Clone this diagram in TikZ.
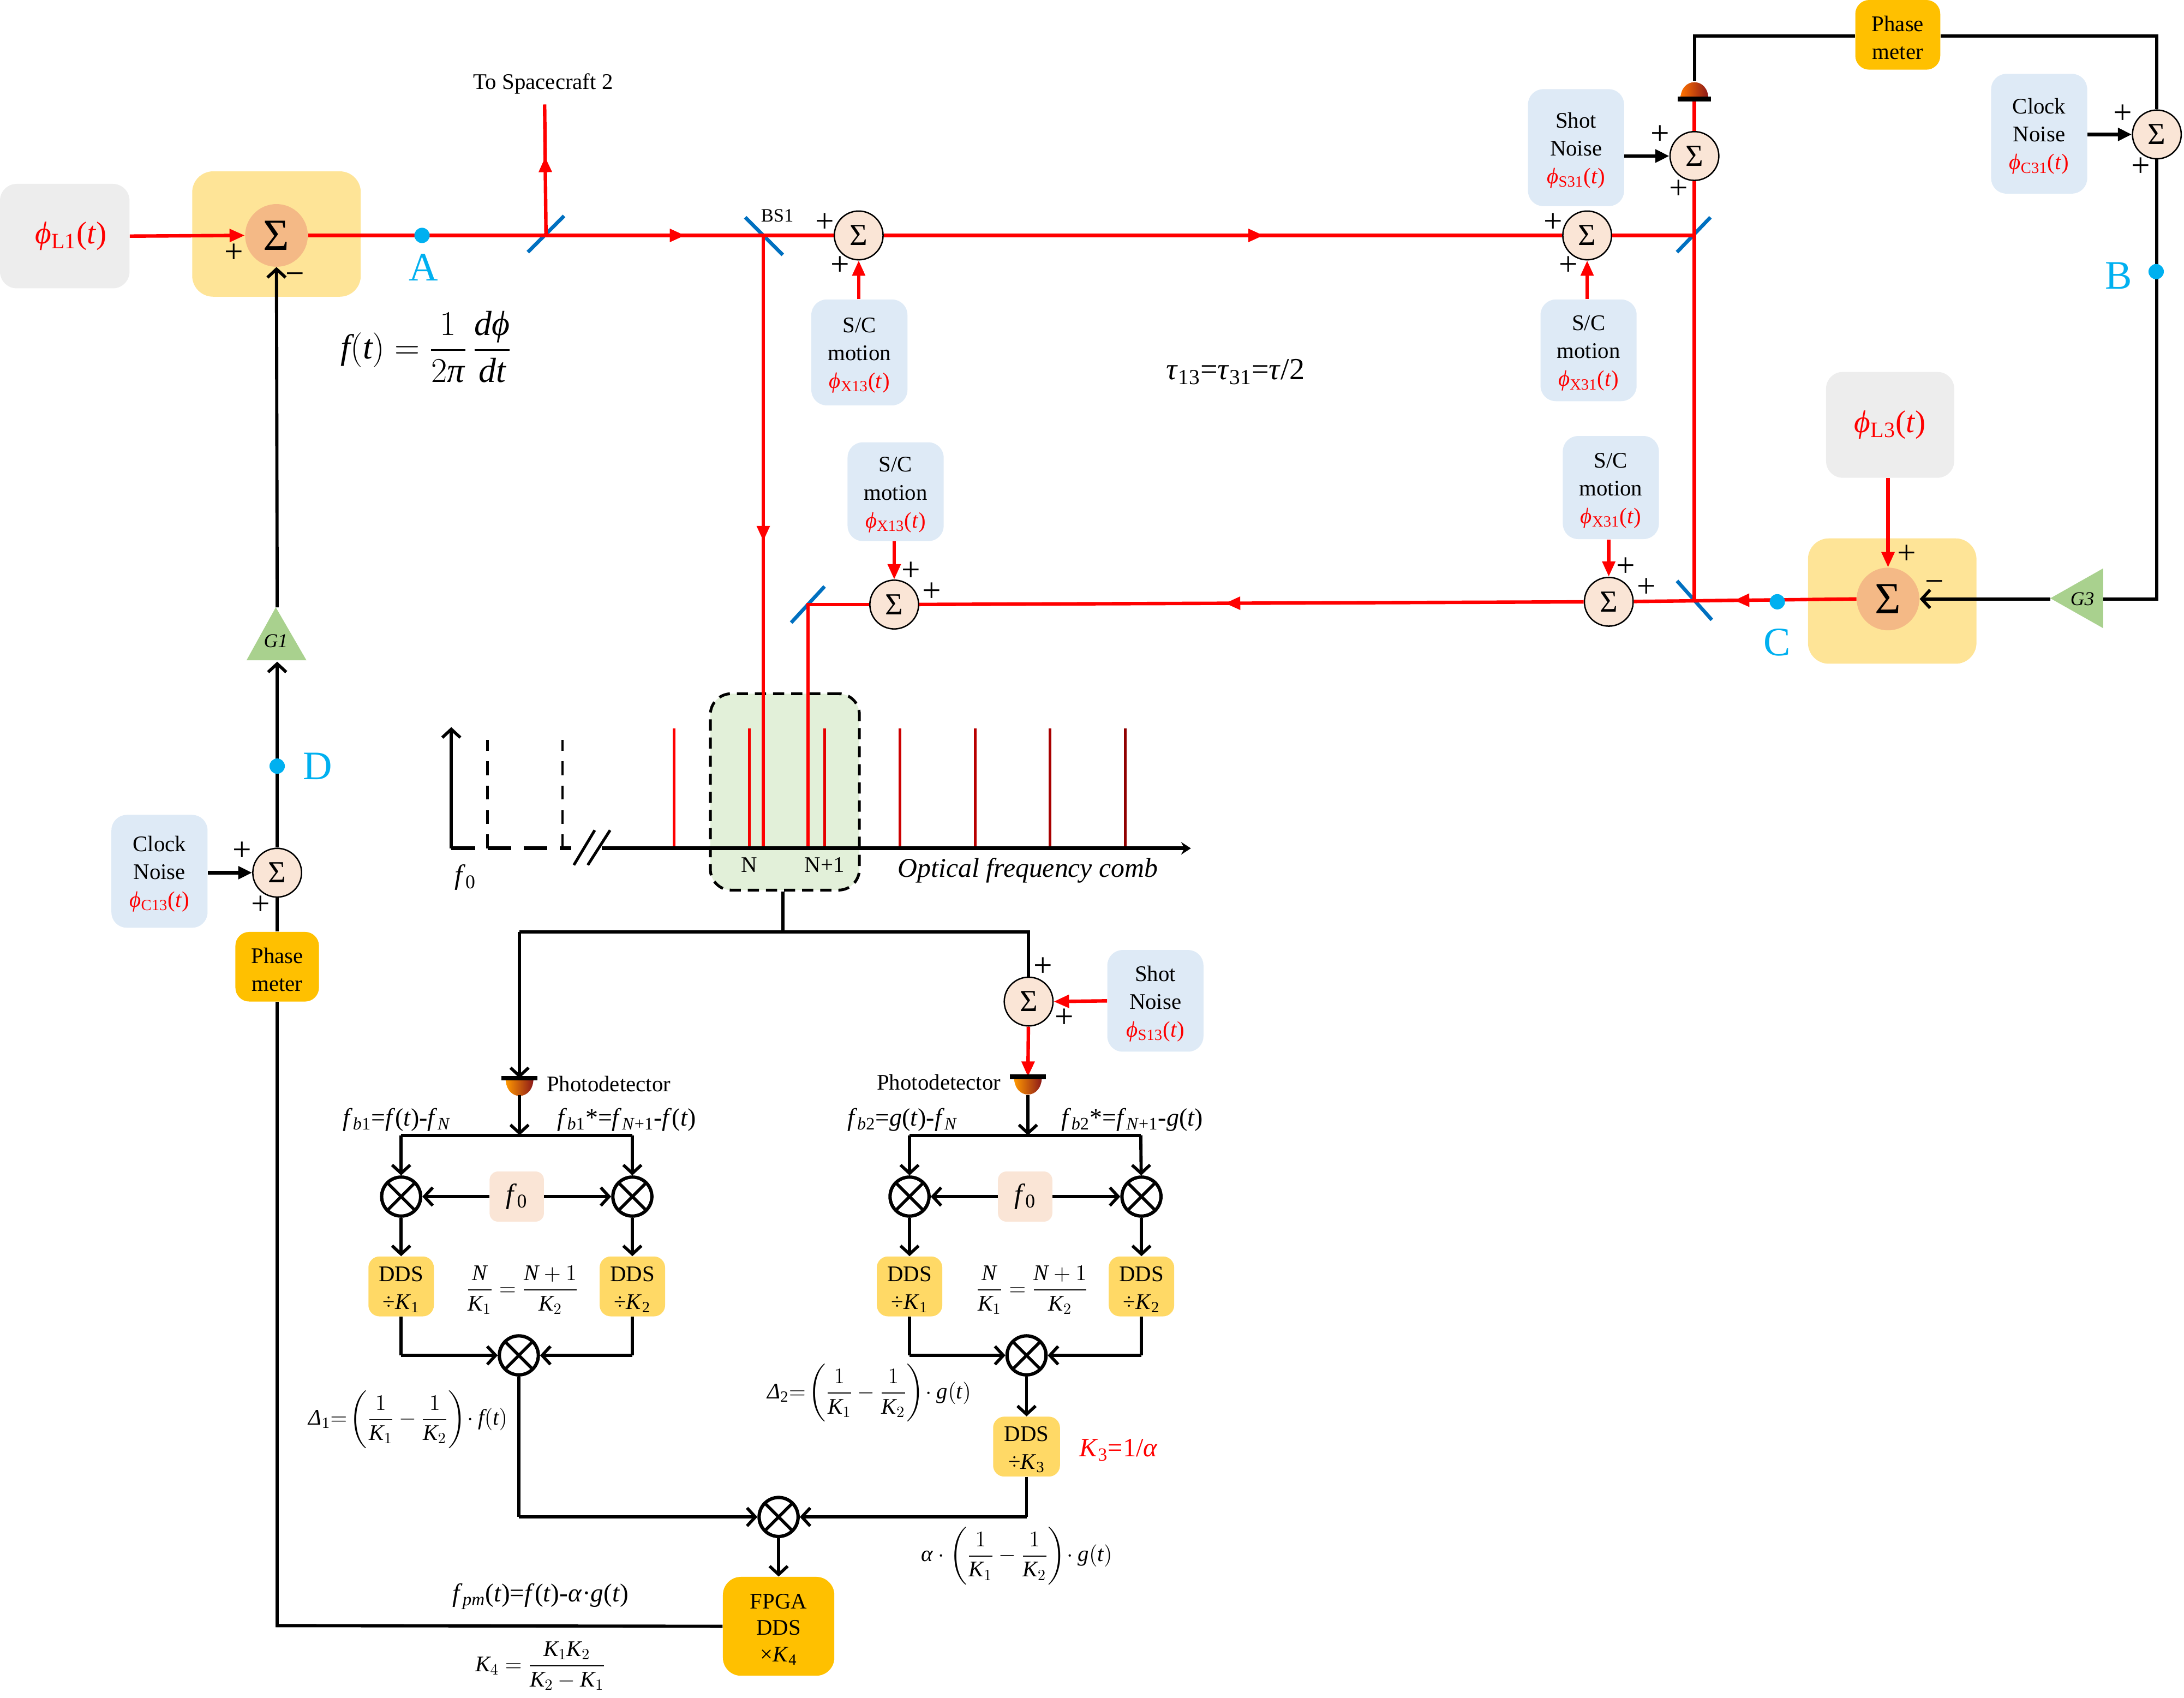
\documentclass[tikz,border=0pt]{standalone}
\usepackage{fix-cm}
\usepackage{amsmath}
\usepackage{fontspec}
\setmainfont{Liberation Serif}
\usetikzlibrary{arrows.meta,decorations.markings,calc}

\definecolor{noisefill}{HTML}{DEEAF6}
\definecolor{laserfill}{HTML}{EDEDED}
\definecolor{lockfill}{HTML}{FEE497}
\definecolor{locksum}{HTML}{F4B986}
\definecolor{sumfill}{HTML}{FAE5D6}
\definecolor{ddsfill}{HTML}{FFD966}
\definecolor{meterfill}{HTML}{FFC000}
\definecolor{gainfill}{HTML}{A9D18E}
\definecolor{combfill}{HTML}{E2F0D9}
\definecolor{pointblue}{HTML}{00B0F0}
\definecolor{mirrorblue}{HTML}{0070C0}

% Red phase symbols, subscripted symbols and a strut that lowers box text a little
\newcommand{\phasesym}[1]{{\color{red}\textit{ϕ}\textsubscript{#1}(\textit{t})}}
\newcommand{\fsb}[2]{\textit{#1}\textsubscript{#2}}
\newcommand{\lowstrut}{\rule{0pt}{15pt}}
% Equation letters taken from the main italic face
\newcommand{\vK}{\mathit{K}}
\newcommand{\vN}{\mathit{N}}
\newcommand{\vf}{\mathit{f}}
\newcommand{\vg}{\mathit{g}}
\newcommand{\vt}{\mathit{t}}
\newcommand{\vd}{\mathit{d}}
\newcommand{\twoK}{\left(\frac{1}{\vK_1}-\frac{1}{\vK_2}\right)}

\tikzset{
  txt/.style={font=\fontsize{16}{20}\selectfont,align=center,inner sep=0pt},
  noisebox/.style={txt,fill=noisefill,rounded corners=11pt,minimum width=69pt},
  laserbox/.style={fill=laserfill,rounded corners=12pt,inner sep=0pt,font=\fontsize{22.5}{28}\selectfont},
  lockbox/.style={fill=lockfill,rounded corners=15pt,minimum width=121pt,minimum height=90pt},
  locksumnode/.style={circle,fill=locksum,minimum size=45pt,inner sep=0pt,font=\fontsize{32}{32}\selectfont},
  sumnode/.style={circle,draw=black,line width=1pt,fill=sumfill,minimum size=35pt,inner sep=0pt,font=\fontsize{22}{22}\selectfont},
  multnode/.style={circle,draw=black,line width=2.4pt,minimum size=28pt,inner sep=0pt,fill=white,
    path picture={\draw[line width=2.2pt] (path picture bounding box.45) -- (path picture bounding box.225)
      (path picture bounding box.135) -- (path picture bounding box.315);}},
  ddsbox/.style={txt,fill=ddsfill,rounded corners=8pt,minimum width=47pt,minimum height=43pt},
  meterbox/.style={txt,fill=meterfill,rounded corners=10pt},
  fzero/.style={fill=sumfill,rounded corners=6pt,minimum width=39pt,minimum height=36pt,inner sep=0pt,font=\fontsize{20}{20}\selectfont},
  sgn/.style={inner sep=0pt,font=\fontsize{24}{24}\selectfont},
  ptlabel/.style={inner sep=0pt,text=pointblue,font=\fontsize{29}{29}\selectfont},
  point/.style={circle,fill=pointblue,minimum size=11pt,inner sep=0pt},
  beam/.style={draw=red,line width=2.5pt},
  beamarrow/.style={beam,-{Triangle[length=11pt,width=9pt]}},
  wire/.style={draw=black,line width=2.3pt},
  wirearrow/.style={wire,-{Straight Barb[length=6pt,width=13pt,line width=2.2pt]}},
  stubarrow/.style={wire,line width=2.6pt,-{Triangle[length=10pt,width=9pt]}},
  mirror/.style={draw=mirrorblue,line width=2.6pt},
  beamtip/.style={postaction={decorate},decoration={markings,
    mark=at position #1 with {\arrow{Triangle[length=11pt,width=9pt]}}}},
  pdup/.pic={
    \path[left color=red!10!orange,right color=red!50!black!90] (-10,0) .. controls (-10,-16) and (10,-16) .. (10,0) -- cycle;
    \draw[line width=3.5pt] (-12,0) -- (12,0);
  },
  pddown/.pic={
    \path[left color=orange!80!yellow,right color=red!50!black!90] (-10,0) .. controls (-10,17) and (10,17) .. (10,0) -- cycle;
    \draw[line width=3.5pt] (-13,0) -- (13,0);
  }
}

\begin{document}
\begin{tikzpicture}[x=1pt,y=-1pt]
\useasboundingbox (0,0) rectangle (1568,1218.6);

% ---- filled backdrops
\node[lockbox] (lockL) at (198.5,168) {};
\node[lockbox] (lockR) at (1358.5,431.5) {};
\node[fill=combfill,minimum width=107pt,minimum height=141pt,rounded corners=15pt,draw=black,line width=2pt,dash pattern=on 8pt off 5pt] (zone) at (563.5,568.5) {};

% ---- lasers and locking summers
\node[laserbox,minimum width=93pt,minimum height=75pt] (laserL) at (46.5,169.5) {\hspace{9pt}\phasesym{L1}};
\node[laserbox,minimum width=92pt,minimum height=76pt] (laserR) at (1357,305) {\phasesym{L3}};
\node[locksumnode] (lsum) at (198.5,169) {Σ};
\node[locksumnode] (rsum) at (1355.5,430) {Σ};

% ---- summing junctions
\node[sumnode] (s1) at (616.5,169) {Σ};
\node[sumnode] (s2) at (1139.5,169) {Σ};
\node[sumnode] (s3) at (1216.5,112) {Σ};
\node[sumnode] (s4) at (1548.5,96.5) {Σ};
\node[sumnode] (s5) at (1155,432) {Σ};
\node[sumnode] (s6) at (642,434) {Σ};
\node[sumnode] (s7) at (199,626.5) {Σ};
\node[sumnode] (s8) at (738.5,719) {Σ};

% ---- noise boxes
\node[noisebox,minimum height=76pt] (scA) at (617,253) {\lowstrut S/C\\motion\\\phasesym{X13}};
\node[noisebox,minimum height=71pt] (scB) at (643,353) {\lowstrut S/C\\motion\\\phasesym{X13}};
\node[noisebox,minimum height=73pt] (scC) at (1140.5,251.5) {\lowstrut S/C\\motion\\\phasesym{X31}};
\node[noisebox,minimum height=74pt] (scD) at (1156.5,350) {\lowstrut S/C\\motion\\\phasesym{X31}};
\node[noisebox,minimum height=84pt] (shotA) at (1131.5,106) {\lowstrut Shot\\Noise\\\phasesym{S31}};
\node[noisebox,minimum height=73pt] (shotB) at (829.5,718.5) {\lowstrut Shot\\Noise\\\phasesym{S13}};
\node[noisebox,minimum height=86pt] (clockA) at (1464,96) {\lowstrut Clock\\Noise\\\phasesym{C31}};
\node[noisebox,minimum height=81pt] (clockB) at (114.5,625.5) {\lowstrut Clock\\Noise\\\phasesym{C13}};

% ---- phase meters and gain stages
\node[meterbox,minimum width=61pt,minimum height=50pt] (meterA) at (1362.5,25) {\lowstrut Phase\\meter};
\node[meterbox,minimum width=60pt,minimum height=50pt] (meterB) at (199,694) {\lowstrut Phase\\meter};
\fill[gainfill] (1510,408) -- (1510,451) -- (1472,429.5) -- cycle;
\fill[gainfill] (198,436) -- (177,474) -- (220,474) -- cycle;
\coordinate (g3in) at (1510,430);
\coordinate (g3out) at (1472,430);
\coordinate (g1in) at (199,475);
\coordinate (g1out) at (199,436);
\node[txt,font=\fontsize{14}{14}\selectfont\itshape] (g3) at (1495,430) {G3};
\node[txt,font=\fontsize{14}{14}\selectfont\itshape] (g1) at (198,460) {G1};

% ---- junction points on the beams
\coordinate (m1) at (392,169);
\coordinate (bs) at (548,169);
\coordinate (m4) at (1216.5,169);
\coordinate (m5) at (1216.5,431);
\coordinate (m6) at (580,434);
\coordinate (tosc) at (391,75);
\coordinate (combN) at (548,608);
\coordinate (combNp) at (580,608);
\coordinate (pdA) at (1216.5,71);
\coordinate (pdAtop) at (1216.5,58);
\coordinate (cornerA) at (1216.5,26);
\coordinate (cornerB) at (1548.5,26);
\coordinate (cornerC) at (1548.5,430);

% ---- mirrors
\draw[mirror] (379,181) -- (405,155);
\draw[mirror] (535,156) -- (562,183);
\draw[mirror] (1204,181) -- (1228,156);
\draw[mirror] (1204,417) -- (1229,445);
\draw[mirror] (568,447) -- (592,421);

% ---- optical path
\draw[beamarrow] (laserL.east) -- (lsum.west);
\draw[beam] (lsum.east) -- (m1);
\draw[beam,beamtip=0.64,red] (m1) -- (bs);
\draw[beam] (bs) -- (s1);
\draw[beam,beamtip=0.56] (s1) -- (s2);
\draw[beam] (s2) -- (m4);
\draw[beam,beamtip=0.6] (m1) -- (tosc);
\draw[beam,beamtip=0.5] (bs) -- (combN);
\draw[beam] (m5) -- (s3);
\draw[beam] (s3) -- (pdA);
\draw[beam,beamtip=0.55] (rsum.west) -- (s5);
\draw[beam,beamtip=0.54] (s5) -- (s6);
\draw[beam] (s6) -- (m6) -- (combNp);
\draw[beamarrow] (scA.north -| s1) -- (s1);
\draw[beamarrow] (scC.north -| s2) -- (s2);
\draw[beamarrow] (scB.south -| s6) -- (s6);
\draw[beamarrow] (scD.south -| s5) -- (s5);
\draw[beamarrow] (laserR.south -| rsum) -- (rsum);

% ---- photodetector on spacecraft side and feedback
\pic at (pdA) {pdup};
\draw[wire] (pdAtop) -- (cornerA) -- (meterA.west |- cornerA);
\draw[wire] (meterA.east |- cornerB) -- (cornerB) -- (s4);
\draw[wire] (s4) -- (cornerC) -- (g3in);
\draw[wirearrow] (g3out) -- (rsum.east);
\draw[stubarrow] (shotA.east |- s3) -- (s3);
\draw[stubarrow] (clockA.east |- s4) -- (s4);
\draw[stubarrow] (clockB.east |- s7) -- (s7);
\draw[wire] (meterB.north -| s7) -- (s7);
\draw[wirearrow] (s7) -- (g1in);
\draw[wirearrow] (g1out) -- (lsum.south);

% ---- test points
\node[point] (ptA) at (303,169) {};
\node[point] (ptB) at (1548,195) {};
\node[point] (ptC) at (1276,432) {};
\node[point] (ptD) at (199,550) {};
\node[ptlabel] (lblA) at (304,192) {A};
\node[ptlabel] (lblB) at (1521,198) {B};
\node[ptlabel] (lblC) at (1276,461) {C};
\node[ptlabel] (lblD) at (228,550) {D};

% ---- signs at the junctions
\foreach \px/\py [count=\i] in {168/182,592/160,603/191,1115/160,1126/191,1192/97,1205/136,1524/82,1537/120,654/410,669/425,1167/407,1182/422,1369/398,174/611,187/650,749/694,764/731}
  \node[sgn] (plus\i) at (\px,\py) {+};
\node[sgn] (minusA) at (212,200) {−};
\node[sgn] (minusB) at (1389,421) {−};

% ---- frequency comb
\coordinate (ax0) at (324,609);
\coordinate (axbreak) at (410,609);
\coordinate (axstart) at (432,609);
\coordinate (axend) at (855,609);
\coordinate (aytop) at (324,522);
\draw[wirearrow] (ax0) -- (aytop);
\draw[line width=2.8pt,dash pattern=on 17pt off 9pt] (ax0) -- (axbreak);
\draw[line width=1.6pt,dash pattern=on 10pt off 7.5pt] (350,609) -- (350,531);
\draw[line width=1.6pt,dash pattern=on 10pt off 7.5pt] (404,609) -- (404,531);
\draw[line width=2pt] (412,621) -- (427,596) (422,621) -- (438,596);
\foreach \cx/\cc [count=\i] in {484/FF0000,538/F50000,592/E60000,646/CC0000,700/B80000,754/A80000,808/900000} {
  \definecolor{tooth}{HTML}{\cc}
  \coordinate (toothtop\i) at (\cx,523);
  \coordinate (toothfoot\i) at (\cx,608);
  \draw[draw=tooth,line width=2pt] (toothtop\i) -- (toothfoot\i);
}
\draw[line width=2.8pt,-{Stealth[length=7pt,width=9pt]}] (axstart) -- (axend);
\node[txt] (lblN) at (538,621) {N};
\node[txt] (lblNp) at (592,621) {N+1};
\node[txt,font=\fontsize{20}{20}\selectfont] (lblF) at (334,630) {\fsb{f}{0}};
\node[txt,font=\fontsize{19.5}{20}\selectfont\itshape] (lblOFC) at (738,625) {Optical frequency comb};

% ---- comb beat split
\coordinate (split) at (562,669);
\coordinate (splitL) at (373,669);
\coordinate (splitR) at (738.5,669);
\coordinate (pdB) at (373,774);
\coordinate (pdBfoot) at (373,786);
\coordinate (pdC) at (738,773);
\coordinate (pdCfoot) at (738,786);
\draw[wire] (zone.south -| split) -- (split);
\draw[wire] (splitL) -- (splitR) -- (s8);
\draw[wirearrow] (splitL) -- (pdB);
\draw[beamarrow] (s8) -- (pdC);
\draw[draw=red,line width=2.5pt,-{Triangle[length=11pt,width=9pt]}] (shotB.west) -- (s8.east);
\pic at (pdB) {pddown};
\pic at (pdC) {pddown};
\node[txt] (pdLblL) at (437,778) {Photodetector};
\node[txt] (pdLblR) at (674,777) {Photodetector};

% ---- left demodulation chain
\coordinate (busL) at (373,815);
\coordinate (busLa) at (288,815);
\coordinate (busLb) at (454,815);
\node[multnode] (xa) at (288,859) {};
\node[multnode] (xb) at (454,859) {};
\node[fzero] (f0a) at (371,859) {\fsb{f}{0}};
\node[ddsbox] (da) at (288,923.5) {\lowstrut DDS\\÷\textit{K}\textsubscript{1}};
\node[ddsbox] (db) at (454,923.5) {\lowstrut DDS\\÷\textit{K}\textsubscript{2}};
\node[multnode] (xc) at (372.5,973) {};
\coordinate (ca) at (288,973);
\coordinate (cb) at (454,973);
\draw[wirearrow] (pdBfoot) -- (busL);
\draw[wire] (busLa) -- (busLb);
\draw[wirearrow] (busLa) -- (xa);
\draw[wirearrow] (busLb) -- (xb);
\draw[wirearrow] (f0a) -- (xa);
\draw[wirearrow] (f0a) -- (xb);
\draw[wirearrow] (xa) -- (da);
\draw[wirearrow] (xb) -- (db);
\draw[wire] (da) -- (ca);
\draw[wirearrow] (ca) -- (xc);
\draw[wire] (db) -- (cb);
\draw[wirearrow] (cb) -- (xc);

% ---- right demodulation chain
\coordinate (busR) at (738,815);
\coordinate (busRa) at (653,815);
\coordinate (busRb) at (819,815);
\node[multnode] (xd) at (653,859) {};
\node[multnode] (xe) at (819.5,859) {};
\node[fzero] (f0b) at (736,859) {\fsb{f}{0}};
\node[ddsbox] (dd) at (653,923.5) {\lowstrut DDS\\÷\textit{K}\textsubscript{1}};
\node[ddsbox] (de) at (819.5,923.5) {\lowstrut DDS\\÷\textit{K}\textsubscript{2}};
\node[multnode] (xf) at (737,973) {};
\node[ddsbox,minimum width=48pt] (df) at (737,1038.5) {\lowstrut DDS\\÷\textit{K}\textsubscript{3}};
\coordinate (cd) at (653,973);
\coordinate (ce) at (819.5,973);
\draw[wirearrow] (pdCfoot) -- (busR);
\draw[wire] (busRa) -- (busRb);
\draw[wirearrow] (busRa) -- (xd);
\draw[wirearrow] (busRb) -- (xe);
\draw[wirearrow] (f0b) -- (xd);
\draw[wirearrow] (f0b) -- (xe);
\draw[wirearrow] (xd) -- (dd);
\draw[wirearrow] (xe) -- (de);
\draw[wire] (dd) -- (cd);
\draw[wirearrow] (cd) -- (xf);
\draw[wire] (de) -- (ce);
\draw[wirearrow] (ce) -- (xf);
\draw[wirearrow] (xf) -- (df);

% ---- final mixer, FPGA and phase-meter return
\node[multnode] (xg) at (559,1089) {};
\node[meterbox,minimum width=80pt,minimum height=71pt,rounded corners=13pt,font=\fontsize{16}{19}\selectfont] (fpga) at (559,1167.5) {\lowstrut FPGA\\DDS\\×\textit{K}\textsubscript{4}};
\coordinate (cg) at (372.5,1089);
\coordinate (ch) at (737,1089);
\coordinate (retn) at (199,1167);
\draw[wire] (xc) -- (cg);
\draw[wirearrow] (cg) -- (xg);
\draw[wire] (df) -- (ch);
\draw[wirearrow] (ch) -- (xg);
\draw[wirearrow] (xg) -- (fpga);
\draw[wire] (fpga.west) -- (retn) -- (meterB.south -| retn);

% ---- labels and relations
\node[txt] (lblSC) at (390,60) {To Spacecraft 2};
\node[txt,font=\fontsize{13.5}{14}\selectfont] (lblBS) at (558,155) {BS1};
\node[txt,font=\fontsize{22}{24}\selectfont] (lblTau) at (887,267) {\textit{τ}\textsubscript{13}=\textit{τ}\textsubscript{31}=\textit{τ}/2};
\node[inner sep=0pt,font=\fontsize{25}{28}\selectfont] (eqF) at (306,249) {$\displaystyle \vf(\vt)=\frac{1}{2\text{\textit{π}}}\,\frac{\vd\text{\textit{ϕ}}}{\vd\vt}$};
\node[txt,font=\fontsize{18}{20}\selectfont] (lblFb1) at (285,804) {\fsb{f}{\textit{b}1}=\textit{f}(\textit{t})-\fsb{f}{\textit{N}}};
\node[txt,font=\fontsize{18}{20}\selectfont] (lblFb1s) at (450,804) {\fsb{f}{\textit{b}1}*=\fsb{f}{\textit{N}+1}-\textit{f}(\textit{t})};
\node[txt,font=\fontsize{18}{20}\selectfont] (lblFb2) at (648,804) {\fsb{f}{\textit{b}2}=\textit{g}(\textit{t})-\fsb{f}{\textit{N}}};
\node[txt,font=\fontsize{18}{20}\selectfont] (lblFb2s) at (813,804) {\fsb{f}{\textit{b}2}*=\fsb{f}{\textit{N}+1}-\textit{g}(\textit{t})};
\node[inner sep=0pt,font=\fontsize{16}{18}\selectfont] (eqRa) at (375,926) {$\displaystyle\frac{\vN}{\vK_1}=\frac{\vN+1}{\vK_2}$};
\node[inner sep=0pt,font=\fontsize{16}{18}\selectfont] (eqRb) at (741,926) {$\displaystyle\frac{\vN}{\vK_1}=\frac{\vN+1}{\vK_2}$};
\node[inner sep=0pt,font=\fontsize{16}{18}\selectfont] (eqDa) at (293,1019) {\textit{Δ}\textsubscript{1}$\displaystyle=\!\twoK\!\cdot \vf(\vt)$};
\node[inner sep=0pt,font=\fontsize{16}{18}\selectfont] (eqDb) at (624,1000) {\textit{Δ}\textsubscript{2}$\displaystyle=\!\twoK\!\cdot \vg(\vt)$};
\node[inner sep=0pt,font=\fontsize{16}{18}\selectfont] (eqAl) at (730,1117) {$\displaystyle\text{\textit{α}}\cdot\twoK\!\cdot \vg(\vt)$};
\node[txt,text=red,font=\fontsize{19}{20}\selectfont] (lblK3) at (803,1041) {\textit{K}\textsubscript{3}=1/\textit{α}};
\node[txt,font=\fontsize{18.5}{20}\selectfont] (lblFpm) at (388,1146) {\fsb{f}{\textit{pm}}(\textit{t})=\textit{f}(\textit{t})-\textit{α}·\textit{g}(\textit{t})};
\node[inner sep=0pt,font=\fontsize{16}{18}\selectfont] (eqK) at (388,1196) {$\displaystyle \vK_4=\frac{\vK_1\vK_2}{\vK_2-\vK_1}$};
\end{tikzpicture}
\end{document}
